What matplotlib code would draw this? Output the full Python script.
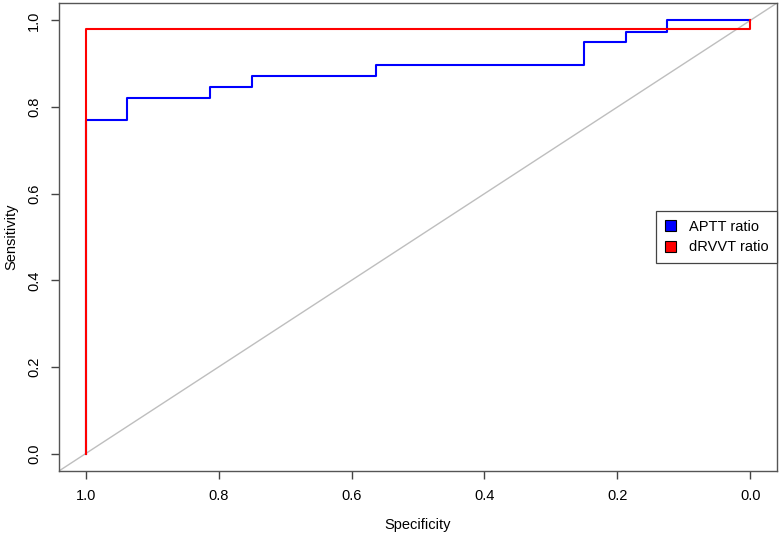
import numpy as np
import matplotlib.pyplot as plt
from matplotlib.patches import Patch

plt.rcParams['font.family'] = ['Liberation Sans', 'DejaVu Sans']

# ROC coordinates (specificity, sensitivity)
aptt_spec = [1.0, 1.0, 0.9375, 0.8125, 0.75, 0.5625, 0.25, 0.1875, 0.125, 0.0]
aptt_sens = [0.0, 0.769, 0.821, 0.846, 0.872, 0.897, 0.949, 0.974, 1.0, 1.0]
drvvt_spec = [1.0, 1.0, 0.0, 0.0]
drvvt_sens = [0.0, 0.979, 0.979, 1.0]

labels = ['APTT ratio', 'dRVVT ratio']
colors = ['blue', 'red']
ticks = [1.0, 0.8, 0.6, 0.4, 0.2, 0.0]

fig = plt.figure(figsize=(7.8, 5.34), dpi=100)
ax = fig.add_axes([0.0756, 0.118, 0.9206, 0.8764])

# chance diagonal
ax.plot([1.1, -0.1], [-0.1, 1.1], color='#bebebe', lw=1.0, zorder=1)

ax.step(aptt_spec, aptt_sens, where='post', color=colors[0], lw=1.5, zorder=2)
ax.step(drvvt_spec, drvvt_sens, where='post', color=colors[1], lw=1.5, zorder=3)

ax.set_xlim(1.04, -0.04)
ax.set_ylim(-0.04, 1.04)
ax.set_xticks(ticks)
ax.set_yticks(ticks)
ax.set_xticklabels(['%.1f' % t for t in ticks])
ax.set_yticklabels(['%.1f' % t for t in ticks], rotation=90, va='center')
ax.tick_params(direction='out', length=6, width=1, color='#444444',
               labelsize=10.5, pad=7)
for s in ax.spines.values():
    s.set_color('#555555')
    s.set_linewidth(1)

ax.set_xlabel('Specificity', fontsize=10.5, labelpad=11)
ax.set_ylabel('Sensitivity', fontsize=10.5, labelpad=6)

handles = [Patch(facecolor=c, edgecolor='black', lw=0.8) for c in colors]
leg = ax.legend(handles, labels, loc='center right', borderaxespad=0,
                fontsize=10.5, fancybox=False, framealpha=1,
                handlelength=0.8, handleheight=0.8, borderpad=0.6,
                labelspacing=0.45, handletextpad=0.85)
leg.get_frame().set_edgecolor('#444444')
leg.get_frame().set_linewidth(0.9)

fig.savefig('out.png', dpi=100)
